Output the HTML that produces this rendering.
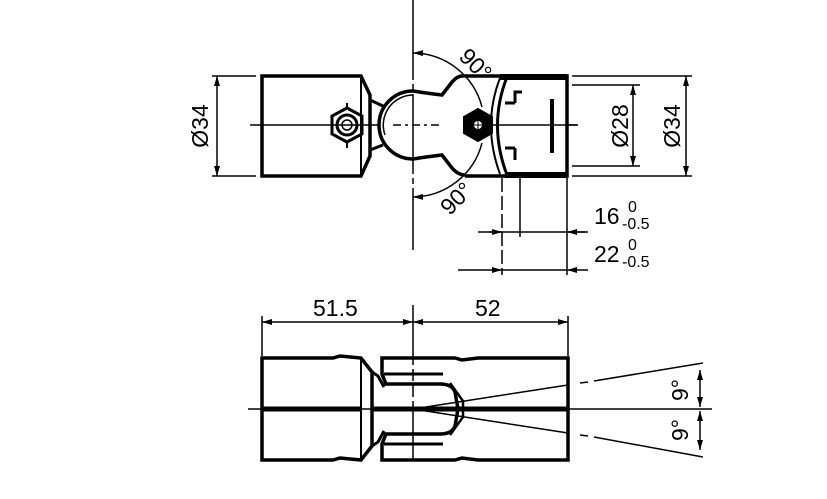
<!DOCTYPE html>
<html><head><meta charset="utf-8"><style>
html,body{margin:0;padding:0;background:#fff;}
svg{display:block;}
text{font-family:"Liberation Sans","DejaVu Sans",sans-serif;fill:#000;}
</style></head><body>
<svg width="827" height="499" viewBox="0 0 827 499" xmlns="http://www.w3.org/2000/svg">
<defs>
<marker id="a" viewBox="0 0 10 6" refX="10" refY="3" markerWidth="14" markerHeight="6" markerUnits="userSpaceOnUse" orient="auto-start-reverse"><path d="M0,0L10,3L0,6z" fill="#000"/></marker>
</defs>
<g stroke="#000" fill="none">
<line x1="413" y1="0" x2="413" y2="250" stroke-width="1.5" stroke-dasharray="80,4,6,4"/>
<line x1="250" y1="125" x2="378" y2="125" stroke-width="1.5"/>
<line x1="393" y1="125" x2="440" y2="125" stroke-width="1.5" stroke-dasharray="8,4,3,4"/>
<line x1="490" y1="125" x2="578" y2="125" stroke-width="1.5"/>
<path d="M262,76 H361 L370,95 V156 L361,176 H262 Z" stroke-width="3.5"/>
<path d="M361,76 V176" stroke-width="2"/>
<path d="M370,100 L383,106 M370,150 L383,145" stroke-width="3"/>
<path d="M413,91 Q425,93 442,95 L452,82 Q458,75 465,76 M413,159 Q425,157 442,155 L452,168 Q458,175 465,175" stroke-width="3.5"/>
<path d="M413,91 A34,34 0 0 0 413,159" stroke-width="3.5"/>
<path d="M413,95 A30,30 0 0 0 385,135" stroke-width="1.5"/>
<path d="M465,76 H567 V176 H465" stroke-width="3.5"/>
<path d="M500,77 H567 M505,175 H567" stroke-width="6"/>
<path d="M507,77 Q488,125 507,175" stroke-width="3"/>
<path d="M500,78 Q482,125 500,174" stroke-width="2"/>
<path d="M515,103 V92 H522 M505,103 H515 M515,148 V160 M505,148 H515" stroke-width="3"/>
<line x1="552" y1="99" x2="552" y2="153" stroke-width="4"/>
<line x1="567" y1="125" x2="577" y2="125" stroke-width="1.5"/>
<path d="M347,108 L362,116 V134 L347,142 L332,134 V116 Z" stroke-width="3"/>
<path d="M347,103 V108 M347,142 V148" stroke-width="2"/>
<circle cx="347" cy="125" r="10" stroke-width="3"/>
<circle cx="347" cy="125" r="5" stroke-width="1.5"/>
<path d="M478,109 L492,117 V133 L478,141 L464,133 V117 Z" fill="#000" stroke-width="2"/>
<circle cx="478" cy="125" r="4" fill="#fff" stroke="none"/>
<line x1="474" y1="125" x2="482" y2="125" stroke-width="1"/><line x1="478" y1="121" x2="478" y2="129" stroke-width="1"/>
<path d="M413,53 A72,72 0 0 1 482,107" stroke-width="1.5" marker-start="url(#a)"/>
<path d="M413,197 A72,72 0 0 0 482,143" stroke-width="1.5" marker-start="url(#a)"/>
<path d="M212,76 H256 M212,176 H256" stroke-width="1.5"/>
<line x1="217" y1="76" x2="217" y2="176" stroke-width="1.5" marker-start="url(#a)" marker-end="url(#a)"/>
<path d="M572,85 H640 M572,166 H640 M572,76 H692 M572,176 H692" stroke-width="1.5"/>
<line x1="633" y1="85" x2="633" y2="166" stroke-width="1.5" marker-start="url(#a)" marker-end="url(#a)"/>
<line x1="686" y1="76" x2="686" y2="176" stroke-width="1.5" marker-start="url(#a)" marker-end="url(#a)"/>
<line x1="502" y1="178" x2="502" y2="275" stroke-width="1.5" stroke-dasharray="14,4"/>
<line x1="520" y1="178" x2="520" y2="237" stroke-width="1.5"/>
<line x1="567" y1="178" x2="567" y2="275" stroke-width="1.5"/>
<path d="M478,232 H502 M567,232 H588" stroke-width="1.5"/>
<line x1="490" y1="232" x2="502" y2="232" stroke-width="1.5" marker-end="url(#a)"/>
<line x1="585" y1="232" x2="567" y2="232" stroke-width="1.5" marker-end="url(#a)"/>
<line x1="502" y1="232" x2="567" y2="232" stroke-width="1.5"/>
<line x1="458" y1="270" x2="502" y2="270" stroke-width="1.5" marker-end="url(#a)"/>
<line x1="588" y1="270" x2="567" y2="270" stroke-width="1.5" marker-end="url(#a)"/>
<line x1="502" y1="270" x2="567" y2="270" stroke-width="1.5"/>
<path d="M262,316 V356 M568,316 V356" stroke-width="1.5"/>
<line x1="262" y1="322" x2="413" y2="322" stroke-width="1.5" marker-start="url(#a)" marker-end="url(#a)"/>
<line x1="413" y1="322" x2="568" y2="322" stroke-width="1.5" marker-start="url(#a)" marker-end="url(#a)"/>
<line x1="413" y1="305" x2="413" y2="460" stroke-width="1.5" stroke-dasharray="60,4,12,4,12,4"/>
<line x1="248" y1="409" x2="712" y2="409" stroke-width="1.5"/>
<path d="M262,358 H333 L340,356 L361,358 L372,372 V446 L361,460 L340,458 L333,460 H262 Z" stroke-width="3.5"/>
<path d="M361,358 V460" stroke-width="2"/>
<path d="M372,372 L378,376 L384,387 M372,446 L378,442 L384,431" stroke-width="3"/>
<path d="M382,358 H455 L462,360 L478,358 H568 V460 H478 L462,458 L455,460 H382 V444 L386,434 H440 Q452,434 455,426 L458,409 L455,392 Q452,384 440,384 H386 L382,374 Z" stroke-width="3.5"/>
<path d="M384,374 H443 M384,444 H443" stroke-width="3"/>
<path d="M450,383 L463,401 V417 L450,435" stroke-width="2.5"/>
<line x1="372" y1="409" x2="568" y2="409" stroke-width="5"/>
<line x1="262" y1="409" x2="361" y2="409" stroke-width="5"/>
<path d="M413,409 L568,385 M413,409 L568,433" stroke-width="1.5"/>
<path d="M580,383 L588,382 M594,381 L703,363 M580,435 L588,436 M594,437 L703,457" stroke-width="1.5"/>
<line x1="700" y1="370" x2="700" y2="407" stroke-width="1.5" marker-start="url(#a)" marker-end="url(#a)"/>
<line x1="700" y1="411" x2="700" y2="450" stroke-width="1.5" marker-start="url(#a)" marker-end="url(#a)"/>
</g>
<g font-size="23">
<text transform="translate(470,70) rotate(45)" text-anchor="middle">90°</text>
<text transform="translate(462,204) rotate(-45)" text-anchor="middle">90°</text>
<text transform="translate(208,126) rotate(-90)" text-anchor="middle">Ø34</text>
<text transform="translate(628,126) rotate(-90)" text-anchor="middle">Ø28</text>
<text transform="translate(680,126) rotate(-90)" text-anchor="middle">Ø34</text>
<text x="594" y="224">16</text>
<text x="594" y="262">22</text>
<text x="313" y="316">51.5</text>
<text x="475" y="316">52</text>
<text transform="translate(688,390) rotate(-90)" text-anchor="middle">9°</text>
<text transform="translate(688,430) rotate(-90)" text-anchor="middle">9°</text>
</g>
<g font-size="16">
<text x="628" y="212">0</text><text x="622" y="229">-0.5</text>
<text x="628" y="250">0</text><text x="622" y="267">-0.5</text>
</g>
</svg>
</body></html>
